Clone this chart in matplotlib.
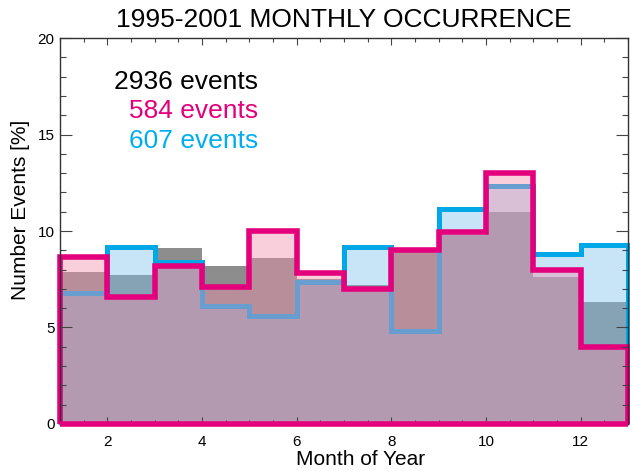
import matplotlib
matplotlib.use("Agg")
import matplotlib.pyplot as plt
import numpy as np
from matplotlib.ticker import MultipleLocator

plt.rcParams['font.family'] = ['Liberation Sans', 'DejaVu Sans']

# monthly occurrence in percent, months 1..12
months = np.arange(1, 14)
all_events = [7.9, 7.7, 9.1, 8.2, 8.6, 7.5, 7.2, 9.0, 9.8, 11.0, 7.6, 6.3]
pink_events = [8.65, 6.6, 8.2, 7.1, 10.0, 7.8, 7.0, 9.0, 9.95, 13.0, 8.0, 4.0]
blue_events = [6.8, 9.15, 8.4, 6.1, 5.6, 7.35, 9.15, 4.8, 11.15, 12.35, 8.8, 9.3]
counts = ["2936 events", "584 events", "607 events"]

pink = "#e4007c"
blue = "#00a8e8"

fig = plt.figure(figsize=(6.3, 4.71), dpi=100)
ax = fig.add_axes([0.0952, 0.0998, 0.9018, 0.8195])

# gray first, then blue, pink on top
ax.stairs(all_events, months, baseline=0, fill=True, facecolor="#8d8d8d",
          edgecolor="none", linewidth=0)
ax.stairs(blue_events, months, baseline=0, fill=True,
          facecolor=(126/255, 195/255, 238/255, 0.42), edgecolor=blue,
          linewidth=3.6, joinstyle="miter", clip_on=False)
ax.stairs(pink_events, months, baseline=0, fill=True,
          facecolor=(242/255, 144/255, 174/255, 0.43), edgecolor=pink,
          linewidth=4.0, joinstyle="miter", clip_on=False)
# closing bottom edge of the pink outline
ax.hlines(0, months[0], months[-1], color=pink, linewidth=4.0,
          clip_on=False, zorder=3)

ax.set_xlim(1, 13)
ax.set_ylim(0, 20)
ax.xaxis.set_major_locator(MultipleLocator(2))
ax.xaxis.set_minor_locator(MultipleLocator(0.5))
ax.yaxis.set_major_locator(MultipleLocator(5))
ax.yaxis.set_minor_locator(MultipleLocator(1))
ax.tick_params(which="both", direction="in", top=True, right=True,
               color="#444444", width=0.8, labelsize=11)
ax.tick_params(axis="x", which="major", length=5, pad=8)
ax.tick_params(axis="x", which="minor", length=3)
ax.tick_params(axis="y", which="major", length=8.5, pad=4)
ax.tick_params(axis="y", which="minor", length=4.5)
for s in ax.spines.values():
    s.set_color("#333333")
    s.set_linewidth(1)

ax.set_title("1995-2001 MONTHLY OCCURRENCE", fontsize=19, pad=8)
ax.set_xlabel("Month of Year", fontsize=15)
ax.xaxis.set_label_coords(0.529, -0.106)
ax.xaxis.label.set_va("baseline")
ax.set_ylabel("Number Events [%]", fontsize=15)
ax.yaxis.set_label_coords(-0.060, 0.554)
ax.yaxis.label.set_va("baseline")

for txt, col, yy in zip(counts, ["black", pink, "#00aeef"], [0.868, 0.793, 0.715]):
    ax.text(0.349, yy, txt, color=col, fontsize=19, ha="right", va="baseline",
            transform=ax.transAxes)

fig.savefig("out.png", dpi=100)
